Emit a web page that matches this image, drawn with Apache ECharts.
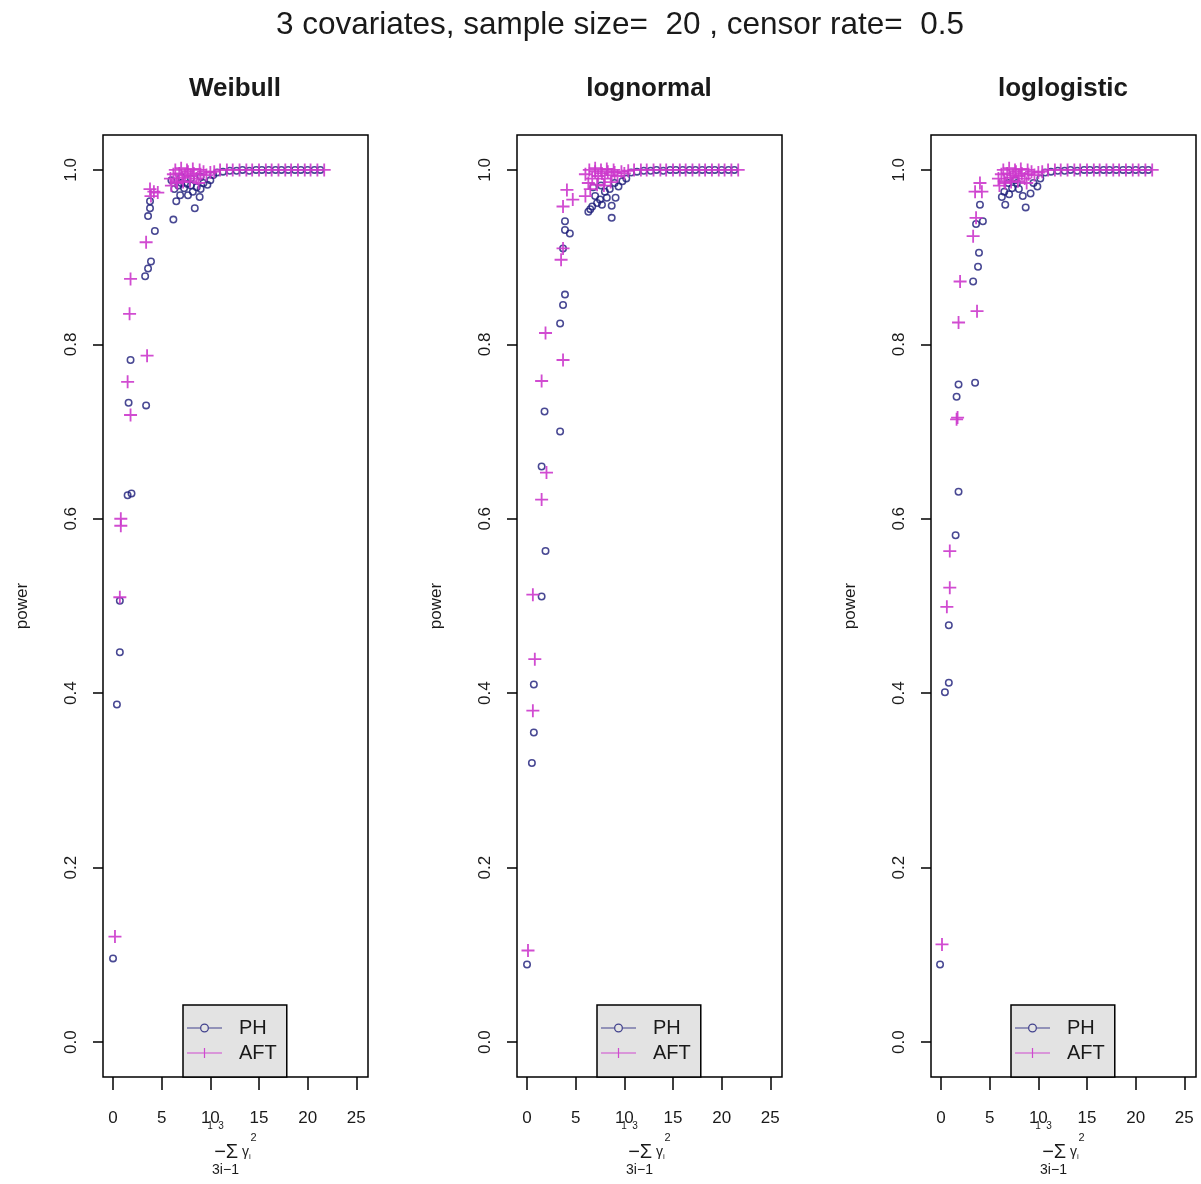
<!DOCTYPE html>
<html><head><meta charset="utf-8">
<script src="https://cdn.jsdelivr.net/npm/echarts@6/dist/echarts.min.js"></script>
<style>html,body{margin:0;padding:0;background:#fff}#c{width:1201px;height:1184px}</style>
</head><body><div id="c"></div><script>
// ---- data (x = (1/3) sum gamma_i^2, y = power) ----
const panelTitles = ['Weibull', 'lognormal', 'loglogistic'];
const seriesNames = ['PH', 'AFT'];
const xTicks = [0, 5, 10, 15, 20, 25];
const yTicks = [0, 0.2, 0.4, 0.6, 0.8, 1.0];

const tailPH = [[10.7,0.997],[11.3,0.998],[12.0,0.999],[12.7,0.999],[13.3,1.0],[14.0,0.999],[14.7,1.0],[15.3,1.0],[16.0,1.0],[16.7,1.0],[17.3,1.0],[18.0,1.0],[18.7,1.0],[19.3,1.0],[20.0,1.0],[20.7,1.0],[21.3,1.0]];
const tailAFT = [[11.0,1.0],[11.7,1.0],[12.3,1.0],[13.0,1.0],[13.7,1.0],[14.3,1.0],[15.0,1.0],[15.7,1.0],[16.3,1.0],[17.0,1.0],[17.7,1.0],[18.3,1.0],[19.0,1.0],[19.7,1.0],[20.3,1.0],[21.0,1.0],[21.7,1.0]];

const weibullPH = [[0,0.096],[0.4,0.387],[0.7,0.447],[0.7,0.506],[1.5,0.627],[1.9,0.629],[1.6,0.733],[1.8,0.782],[3.4,0.730],[3.3,0.878],[3.6,0.887],[3.9,0.895],[4.3,0.930],[3.6,0.947],[3.8,0.956],[3.8,0.964],
  [6.2,0.943],[6.5,0.964],[6.9,0.971],[8.4,0.956],[8.9,0.969],[7.7,0.971],[8.2,0.975],
  [6.3,0.978],[6.7,0.982],[7.0,0.985],[7.3,0.979],[7.6,0.984],[8.0,0.982],[8.6,0.980],[9.0,0.978],[9.3,0.985],[9.7,0.983],[10.0,0.988],[6.0,0.988],[7.0,0.992],[8.0,0.990],[9.0,0.992],[10.3,0.994]];
const weibullAFT = [[0.2,0.121],[0.7,0.510],[0.8,0.600],[0.8,0.592],[1.8,0.719],[1.5,0.757],[1.7,0.835],[1.8,0.875],[3.5,0.787],[3.4,0.917],[3.8,0.978],[4.2,0.975],[4.6,0.974],[3.9,0.970],
  [5.9,0.990],[6.2,0.995],[6.5,0.987],[6.8,0.996],[7.1,0.991],[7.4,0.994],[7.7,0.998],[8.0,0.993],[8.3,0.996],[8.6,0.990],[9.0,0.995],[9.3,0.998],[9.6,0.994],[10.0,0.997],[10.4,0.998],[6.0,0.982],[6.6,0.985],[7.2,0.986],[7.9,0.987],[8.8,0.985],
  [6.4,1.0],[7.0,1.002],[7.6,1.0],[8.2,1.001],[8.9,1.0]];

const lognormalPH = [[0,0.089],[0.5,0.320],[0.7,0.355],[0.7,0.410],[1.9,0.563],[1.5,0.511],[1.5,0.660],[1.8,0.723],[3.4,0.700],[3.4,0.824],[3.7,0.845],[3.9,0.857],[3.9,0.931],[4.4,0.927],[3.9,0.941],[3.7,0.910],
  [6.3,0.952],[6.7,0.958],[7.2,0.962],[7.7,0.960],[7.5,0.966],[8.2,0.968],[8.7,0.959],[8.7,0.945],[9.1,0.968],[9.4,0.981],[6.5,0.955],[7.0,0.970],[8.0,0.975],[8.5,0.978],[9.0,0.985],[9.8,0.987],[10.2,0.990],[6.8,0.980],[7.6,0.982]];
const lognormalAFT = [[0.1,0.105],[0.6,0.380],[0.8,0.439],[0.6,0.513],[1.5,0.622],[2.0,0.653],[1.5,0.758],[3.7,0.782],[1.9,0.813],[3.5,0.897],[3.7,0.910],[3.7,0.958],[4.1,0.977],[4.7,0.966],
  [6.0,0.970],[6.3,0.985],[6.0,0.995],[6.7,0.990],[7.0,0.998],[7.3,0.993],[7.7,0.996],[8.0,0.990],[8.3,0.998],[8.7,0.994],[9.0,0.997],[9.3,0.993],[9.7,0.998],[10.0,0.996],[10.4,0.999],[6.5,0.978],[7.2,0.983],[7.9,0.982],[8.6,0.986],
  [6.4,1.0],[7.0,1.002],[7.6,1.0],[8.2,1.001],[8.9,1.0]];

const loglogisticPH = [[-0.1,0.089],[0.4,0.401],[0.8,0.412],[0.8,0.478],[1.5,0.581],[1.8,0.631],[1.6,0.740],[1.8,0.754],[3.5,0.756],[3.3,0.872],[3.8,0.889],[3.9,0.905],[4.3,0.941],[4.0,0.960],[3.6,0.938],
  [6.25,0.969],[6.6,0.960],[7.3,0.979],[7.8,0.985],[8.7,0.957],[9.2,0.973],[9.9,0.981],[6.5,0.975],[7.0,0.972],[8.0,0.978],[8.4,0.970],[9.5,0.985],[10.2,0.990],[6.9,0.985],[7.6,0.988]];
const loglogisticAFT = [[0.1,0.112],[0.6,0.499],[0.9,0.521],[0.9,0.563],[1.6,0.714],[1.7,0.716],[1.8,0.825],[1.96,0.872],[3.7,0.838],[3.3,0.924],[3.6,0.945],[3.5,0.975],[4.0,0.985],[4.2,0.975],
  [5.9,0.990],[6.2,0.995],[6.5,0.987],[6.8,0.996],[7.1,0.991],[7.4,0.994],[7.7,0.998],[8.0,0.993],[8.3,0.996],[8.6,0.990],[9.0,0.995],[9.3,0.998],[9.6,0.994],[10.0,0.997],[10.4,0.998],[6.0,0.982],[6.6,0.985],[7.2,0.986],[7.9,0.987],[8.8,0.985],
  [6.4,1.0],[7.0,1.002],[7.6,1.0],[8.2,1.001],[8.9,1.0]];

const panelPH = [weibullPH.concat(tailPH), lognormalPH.concat(tailPH), loglogisticPH.concat(tailPH)];
const panelAFT = [weibullAFT.concat(tailAFT), lognormalAFT.concat(tailAFT), loglogisticAFT.concat(tailAFT)];

// ---- styling ----
const FONT = '"Liberation Sans", Arial, sans-serif';
const TXT = '#1a1a1a';
const PH_COLOR = '#1a1a78';
const AFT_COLOR = '#cc38cc';
const ringSym = 'path://M0,5a5,5 0 1,0 10,0a5,5 0 1,0 -10,0z M1.9,5a3.1,3.1 0 1,1 6.2,0a3.1,3.1 0 1,1 -6.2,0z';
const plusSym = 'path://M4.3,0h1.4v10h-1.4z M0,4.3h10v1.4h-10z';
const phIcon = 'path://M0,4.4h13v1.2h-13z M22,4.4h13v1.2h-13z M13,5a4.5,4.5 0 1,0 9,0a4.5,4.5 0 1,0 -9,0z M14.3,5a3.2,3.2 0 1,1 6.4,0a3.2,3.2 0 1,1 -6.4,0z';
const aftIcon = 'path://M0,4.4h35v1.2h-35z M16.9,0h1.2v10h-1.2z';

const gridLefts = [103, 517, 931];
const grids = [], xAxes = [], yAxes = [], series = [], legends = [];
const titles = [{
  text: '3 covariates, sample size=  20 , censor rate=  0.5',
  left: 620, top: 9, textAlign: 'center', padding: 0,
  textStyle: {fontFamily: FONT, fontSize: 31.5, fontWeight: 'normal', color: TXT}
}];

for (let i = 0; i < 3; i++) {
  grids.push({left: gridLefts[i], top: 135, width: 265, height: 942, show: true,
    borderColor: '#000', borderWidth: 1.5, backgroundColor: 'transparent', containLabel: false});
  titles.push({text: panelTitles[i], left: gridLefts[i] + 132, top: 76, textAlign: 'center', padding: 0,
    textStyle: {fontFamily: FONT, fontSize: 26, fontWeight: 'bold', color: TXT}});
  xAxes.push({type: 'value', gridIndex: i, min: -1.03, max: 26.2,
    axisLine: {show: false, onZero: false}, splitLine: {show: false},
    axisTick: {show: true, length: 13, customValues: xTicks, lineStyle: {color: '#000', width: 1.5}},
    axisLabel: {customValues: xTicks, margin: 33, fontSize: 17, fontFamily: FONT, color: TXT},
    name: '{a|1  3}\n{b|2}\n{c|−Σ}{d| γ}{e|i}\n{f|3i−1}',
    nameLocation: 'middle', nameGap: 44, nameMoveOverlap: false,
    nameTextStyle: {fontFamily: FONT, color: TXT, rich: {
      a: {fontSize: 10, lineHeight: 11, padding: [0, 40, 0, 0], fontFamily: FONT, color: TXT},
      b: {fontSize: 11, lineHeight: 11, padding: [0, 0, 0, 36], fontFamily: FONT, color: TXT},
      c: {fontSize: 20, lineHeight: 19, fontFamily: FONT, color: TXT},
      d: {fontSize: 14, lineHeight: 19, fontFamily: FONT, color: TXT},
      e: {fontSize: 8, lineHeight: 19, padding: [9, 6, 0, 0], fontFamily: FONT, color: TXT},
      f: {fontSize: 14, lineHeight: 17, padding: [0, 20, 0, 0], fontFamily: FONT, color: TXT}
    }}
  });
  yAxes.push({type: 'value', gridIndex: i, min: -0.04, max: 1.04,
    axisLine: {show: false, onZero: false}, splitLine: {show: false},
    axisTick: {show: true, length: 10, customValues: yTicks, lineStyle: {color: '#000', width: 1.5}},
    axisLabel: {customValues: yTicks, rotate: 90, margin: 23, fontSize: 17, fontFamily: FONT, color: TXT,
      formatter: v => v.toFixed(1)},
    name: 'power', nameLocation: 'middle', nameGap: 72, nameRotate: 90, nameMoveOverlap: false,
    nameTextStyle: {fontFamily: FONT, fontSize: 17, color: TXT}
  });
  series.push({name: seriesNames[0], type: 'scatter', xAxisIndex: i, yAxisIndex: i,
    data: panelPH[i], symbol: ringSym, symbolSize: 8, itemStyle: {color: PH_COLOR}, z: 2, silent: true});
  series.push({name: seriesNames[1], type: 'scatter', xAxisIndex: i, yAxisIndex: i,
    data: panelAFT[i], symbol: plusSym, symbolSize: 13, itemStyle: {color: AFT_COLOR, opacity: 0.9}, z: 3, silent: true});
  legends.push({
    left: gridLefts[i] + 80, top: 1005, orient: 'vertical',
    data: [{name: seriesNames[0], icon: phIcon}, {name: seriesNames[1], icon: aftIcon}],
    itemWidth: 35, itemHeight: 10, itemGap: 3,
    padding: [12, 10, 13, 4],
    backgroundColor: '#e3e3e3', borderColor: '#000', borderWidth: 1.5, borderRadius: 0,
    selectedMode: false,
    textStyle: {fontFamily: FONT, fontSize: 20, lineHeight: 22, color: TXT, padding: [0, 0, 0, 12]}
  });
}

const chart = echarts.init(document.getElementById('c'), null, {renderer: 'canvas'});
chart.setOption({
  animation: false,
  backgroundColor: '#fff',
  title: titles,
  grid: grids,
  xAxis: xAxes,
  yAxis: yAxes,
  legend: legends,
  series: series
});
</script></body></html>
